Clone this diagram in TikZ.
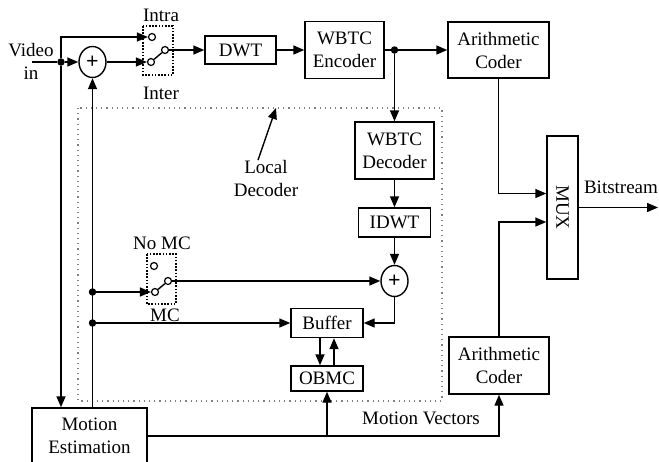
\documentclass[tikz,border=0pt]{standalone}
\usepackage{fontspec}
\setmainfont{Liberation Serif}
\usetikzlibrary{arrows.meta,calc,shapes.geometric}

\begin{document}
\begin{tikzpicture}[x=1pt,y=-1pt,
  font=\fontsize{19}{23}\selectfont,
  blk/.style={draw, line width=1.4pt, inner sep=0pt, align=center},
  sumnode/.style={draw, ellipse, line width=1.4pt, minimum width=27pt, minimum height=31pt, inner sep=0pt,
    font=\fontsize{22}{22}\selectfont\bfseries},
  wire/.style={line width=1.4pt},
  arr/.style={wire, -{Triangle[length=11pt,width=9pt]}},
  junc/.style={circle, fill, inner sep=0pt, minimum size=7.5pt},
  contact/.style={circle, draw, fill=white, line width=1.2pt, inner sep=0pt, minimum size=7pt},
  swbox/.style={draw, line width=1.3pt, dash pattern=on 1.6pt off 1.6pt},
  lbl/.style={inner sep=0pt, align=center}]

\useasboundingbox (0,0) rectangle (659,461);

% local decoder region
\draw[gray, line width=1.2pt, dash pattern=on 1.2pt off 4pt] (78,108) rectangle (442,401);

% processing blocks
\node[blk, minimum width=71pt, minimum height=28pt] (dwt) at (240.5,50) {DWT};
\node[blk, minimum width=79pt, minimum height=57pt] (enc) at (344.5,50) {WBTC\\Encoder};
\node[blk, minimum width=101pt, minimum height=56pt] (ac1) at (498.5,50) {Arithmetic\\Coder};
\node[blk, minimum width=79pt, minimum height=57pt] (dec) at (394.5,150.5) {WBTC\\Decoder};
\node[blk, minimum width=72pt, minimum height=29pt] (idwt) at (394.5,222.5) {IDWT};
\node[blk, minimum width=72pt, minimum height=29pt] (buf) at (327,323) {Buffer};
\node[blk, minimum width=72pt, minimum height=25pt] (obmc) at (327,378.5) {OBMC};
\node[blk, minimum width=100pt, minimum height=57pt] (ac2) at (499,365.5) {Arithmetic\\Coder};
\node[blk, minimum width=31pt, minimum height=143pt] (mux) at (562.5,207.5) {};
\node[lbl, rotate=-90] (muxt) at (mux) {MUX};
\node[blk, minimum width=115pt, minimum height=56pt] (me) at (89.5,436) {Motion\\Estimation};

% adders
\node[sumnode] (sum1) at (92.5,62) {+};
\node[sumnode] (sum2) at (394.5,281) {+};

% intra / inter switch
\draw[swbox] (143,26) rectangle (173,75);
\node[contact] (c1a) at (152,37) {};
\node[contact] (c1b) at (151,62) {};
\node[contact] (c1c) at (165,50) {};
\draw[wire] (c1b) -- (c1c);

% no MC / MC switch
\draw[swbox] (147,254) rectangle (176,304);
\node[contact] (c2a) at (154,266) {};
\node[contact] (c2b) at (155,292) {};
\node[contact] (c2c) at (168,281) {};
\draw[wire] (c2b) -- (c2c);

% junctions
\node[junc] (j1) at (61,62) {};
\node[junc] (j2) at (394.5,50) {};
\node[junc] (j3) at (92.5,292) {};
\node[junc] (j4) at (92.5,323) {};
\coordinate (vin) at (32,62);
\coordinate (bs) at (658,207.5);

% labels
\node[lbl] (video) at (31,61.5) {Video\\in};
\node[lbl] (intra) at (161,15) {Intra};
\node[lbl] (inter) at (161,93) {Inter};
\node[lbl] (nomc) at (162,243) {No MC};
\node[lbl] (mc) at (165,315) {MC};
\node[lbl] (ldl) at (266,178.5) {Local\\Decoder};
\node[lbl] (mvl) at (421,418) {Motion Vectors};
\node[lbl] (bsl) at (621,187) {Bitstream};
\coordinate (ldt) at (276,108);

% forward path
\draw[wire] (vin) -- (j1);
\draw[arr] (j1) -- (sum1.west);
\draw[arr] (j1) |- (c1a.west);
\draw[arr] (sum1.east) -- (c1b.west);
\draw[arr] (c1c.east) -- (dwt.west);
\draw[arr] (dwt) -- (enc);
\draw[wire] (enc) -- (j2);
\draw[arr] (j2) -- (ac1);
\draw[arr] (j2) -- (dec);
\draw[arr] (ac1.south) |- ([yshift=14pt]mux.west);
\draw[arr] (ac2.north) |- ([yshift=-14.5pt]mux.west);
\draw[arr] (mux.east) -- (bs);

% local decoder loop
\draw[arr] (dec) -- (idwt);
\draw[arr] (idwt) -- (sum2);
\draw[arr] (sum2.south) |- (buf.east);
\draw[arr] (j3) -- (c2b.west);
\draw[arr] (c2c.east) -- (sum2.west);
\draw[arr] (j4) -- (buf.west);
\draw[arr] ([xshift=-7pt]buf.south) -- ([xshift=-7pt]obmc.north);
\draw[arr] ([xshift=7pt]obmc.north) -- ([xshift=7pt]buf.south);

% motion estimation paths
\draw[arr] (j1) -- (me.north -| j1);
\draw[arr] (me.north -| sum1.south) -- (sum1.south);
\draw[arr] (me.east) -| (ac2.south);
\draw[arr] (me.east -| obmc.south) -- (obmc.south);

% annotation arrow
\draw[arr] ([xshift=-8pt]ldl.north) -- (ldt);
\end{tikzpicture}
\end{document}
